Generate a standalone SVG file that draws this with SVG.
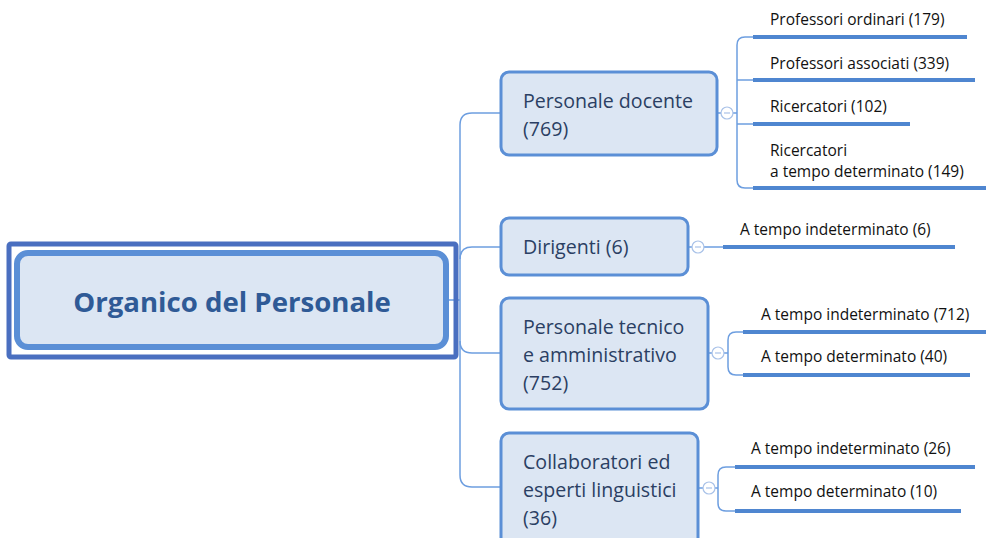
<svg xmlns="http://www.w3.org/2000/svg" width="986" height="538" viewBox="0 0 986 538">
<style>
.box{fill:#dce6f3;stroke:#5b8fd6;stroke-width:3}
.bt{font-family:"Open Sans","Noto Sans",sans-serif;font-size:19.6px;fill:#2b3f63}
.ct{font-family:"Open Sans","Noto Sans",sans-serif;font-size:15.5px;fill:#111}
.con{fill:none;stroke:#6d9ee0;stroke-width:1.5}
.ul{stroke:#4f86d0;stroke-width:4}
.col{fill:#fff;stroke:#a9c2e8;stroke-width:1.2}
.mn{stroke:#a9c2e8;stroke-width:1.2}
</style>
<rect width="986" height="538" fill="#fff"/>
<g id="connectors">
<path class="con" d="M448 300 H460"/>
<path class="con" d="M500 113 H472 Q460 113 460 125 V475 Q460 487 472 487 H500"/>
<path class="con" d="M500 247 H472 Q460 247 460 259"/>
<path class="con" d="M460 341 Q460 353 472 353 H500"/>
<path class="con" d="M717 113 H737"/>
<path class="con" d="M753 37 H745 Q737 37 737 45 V180 Q737 188 745 188 H753"/>
<path class="con" d="M737 80 H753 M737 124 H753"/>
<path class="con" d="M688 247 H723"/>
<path class="con" d="M708 353 H728"/>
<path class="con" d="M743 332 H736 Q728 332 728 340 V367 Q728 375 736 375 H743"/>
<path class="con" d="M698 488 H718"/>
<path class="con" d="M735 467 H726 Q718 467 718 475 V503 Q718 511 726 511 H735"/>
</g>
<g id="root">
<rect x="9" y="244" width="447" height="113" fill="none" stroke="#4a6fc0" stroke-width="5" rx="2"/>
<rect x="17" y="253" width="429" height="94" rx="11" fill="#dce6f3" stroke="#5b8fd6" stroke-width="6"/>
<text x="232" y="312" text-anchor="middle" font-family="'Open Sans','Noto Sans',sans-serif" font-size="27.6" font-weight="bold" fill="#2f5a96">Organico del Personale</text>
</g>
<g id="docente">
<rect class="box" x="501" y="72" width="216" height="83" rx="8"/>
<text class="bt" x="523" y="108">Personale docente</text>
<text class="bt" x="523" y="136">(769)</text>
<circle class="col" cx="727" cy="113" r="6"/><path class="mn" d="M724 113 H730"/>
</g>
<g id="dirigenti">
<rect class="box" x="501" y="218" width="187" height="57" rx="8"/>
<text class="bt" x="523" y="254">Dirigenti (6)</text>
<circle class="col" cx="698" cy="247" r="6"/><path class="mn" d="M695 247 H701"/>
</g>
<g id="tecnico">
<rect class="box" x="501" y="298" width="207" height="111" rx="8"/>
<text class="bt" x="523" y="334">Personale tecnico</text>
<text class="bt" x="523" y="362">e amministrativo</text>
<text class="bt" x="523" y="390">(752)</text>
<circle class="col" cx="718" cy="353" r="6"/><path class="mn" d="M715 353 H721"/>
</g>
<g id="collaboratori">
<rect class="box" x="501" y="433" width="197" height="120" rx="8"/>
<text class="bt" x="523" y="469">Collaboratori ed</text>
<text class="bt" x="523" y="497">esperti linguistici</text>
<text class="bt" x="523" y="525">(36)</text>
<circle class="col" cx="709" cy="488" r="6"/><path class="mn" d="M706 488 H712"/>
</g>
<g id="ordinari"><path class="ul" d="M753 37 H967"/><text class="ct" x="770" y="25">Professori ordinari (179)</text></g>
<g id="associati"><path class="ul" d="M753 80 H975"/><text class="ct" x="770" y="69">Professori associati (339)</text></g>
<g id="ricercatori"><path class="ul" d="M753 124 H910"/><text class="ct" x="770" y="112">Ricercatori (102)</text></g>
<g id="ricercatori-td"><path class="ul" d="M753 188 H986"/><text class="ct" x="770" y="156">Ricercatori</text><text class="ct" x="770" y="177">a tempo determinato (149)</text></g>
<g id="dir-ind"><path class="ul" d="M723 247 H955"/><text class="ct" x="740" y="235">A tempo indeterminato (6)</text></g>
<g id="tec-ind"><path class="ul" d="M743 332 H986"/><text class="ct" x="761" y="320">A tempo indeterminato (712)</text></g>
<g id="tec-det"><path class="ul" d="M743 375 H970"/><text class="ct" x="761" y="362">A tempo determinato (40)</text></g>
<g id="col-ind"><path class="ul" d="M735 467 H975"/><text class="ct" x="751" y="454">A tempo indeterminato (26)</text></g>
<g id="col-det"><path class="ul" d="M735 511 H961"/><text class="ct" x="751" y="497">A tempo determinato (10)</text></g>
</svg>
